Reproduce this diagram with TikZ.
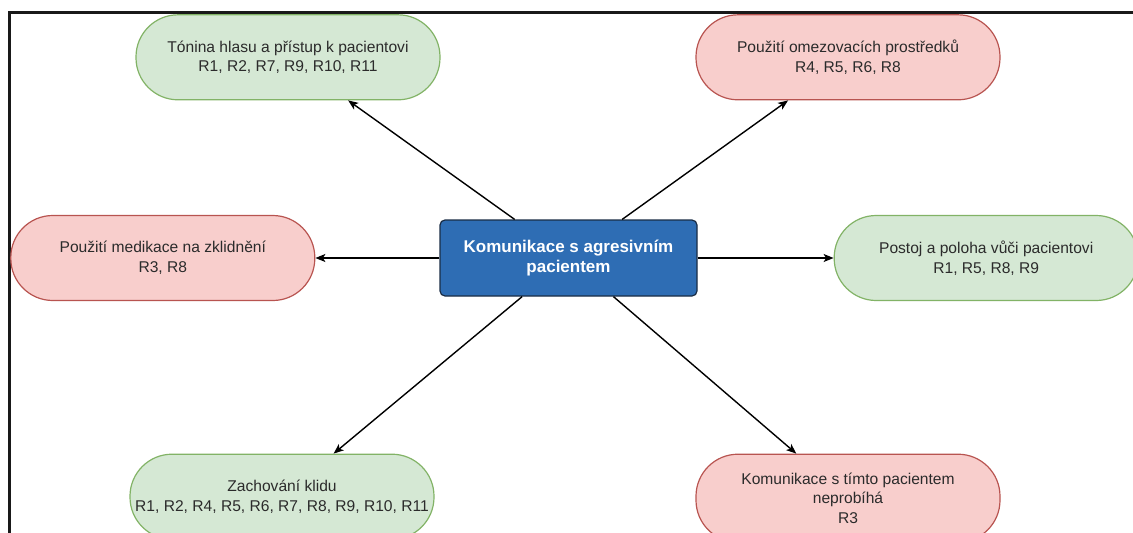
\documentclass[tikz,border=0pt]{standalone}
\usepackage{fontspec}
\setmainfont{Liberation Sans}
\usepackage{xcolor}
\usetikzlibrary{arrows.meta,positioning}

\definecolor{pillgreen}{HTML}{D5E8D4}
\definecolor{pillgreenline}{HTML}{82B366}
\definecolor{pillred}{HTML}{F8CECC}
\definecolor{pillredline}{HTML}{B85450}
\definecolor{hubblue}{HTML}{2E6DB4}
\definecolor{hubline}{HTML}{1A2D45}
\definecolor{pilltext}{HTML}{2B2B2B}

\begin{document}
\begin{tikzpicture}[
    x=1pt, y=-1pt,
    pill/.style={draw=#1line, fill=#1, line width=1.2pt, rounded corners=42pt,
                 minimum width=304pt, minimum height=85pt, align=center,
                 text=pilltext, font=\fontsize{15.6}{19.5}\selectfont},
    pill/.default=pillgreen,
    hub/.style={draw=hubline, fill=hubblue, line width=1.2pt, rounded corners=5pt,
                minimum width=257pt, minimum height=76pt, align=center,
                text=white, font=\bfseries\fontsize{17}{20.5}\selectfont},
    arrow/.style={-{Stealth[length=10pt, width=8pt, inset=2.5pt]}, line width=1.4pt},
]
    \useasboundingbox (0,0) rectangle (1133,533);

    % Frame
    \draw[line width=3pt, black!90] (9,540) -- (9,12.5) -- (1140,12.5);

    % Centre
    \node[hub] (hub) at (568.5,258) {Komunikace s agresivním\\pacientem};

    % Upper row
    \node[pill=pillgreen, above=119pt of hub, xshift=-280.5pt] (tonina)
        {Tónina hlasu a přístup k pacientovi\\R1, R2, R7, R9, R10, R11};
    \node[pill=pillred, above=119pt of hub, xshift=279.5pt] (omezeni)
        {Použití omezovacích prostředků\\R4, R5, R6, R8};

    % Middle row
    \node[pill=pillred, left=124pt of hub] (medikace)
        {Použití medikace na zklidnění\\R3, R8};
    \node[pill=pillgreen, right=136pt of hub] (postoj)
        {Postoj a poloha vůči pacientovi\\R1, R5, R8, R9};

    % Lower row
    \node[pill=pillgreen, below=157pt of hub, xshift=-286.5pt] (klid)
        {Zachování klidu\\R1, R2, R4, R5, R6, R7, R8, R9, R10, R11};
    \node[pill=pillred, below=157pt of hub, xshift=279.5pt, minimum height=88pt] (neprobiha)
        {Komunikace s tímto pacientem\\neprobíhá\\R3};

    % Arrows
    \draw[arrow] (hub) -- (tonina);
    \draw[arrow] (hub) -- (omezeni);
    \draw[arrow] (hub) -- (medikace);
    \draw[arrow] (hub) -- (postoj);
    \draw[arrow] (hub) -- (klid);
    \draw[arrow] (hub) -- (neprobiha);
\end{tikzpicture}
\end{document}
